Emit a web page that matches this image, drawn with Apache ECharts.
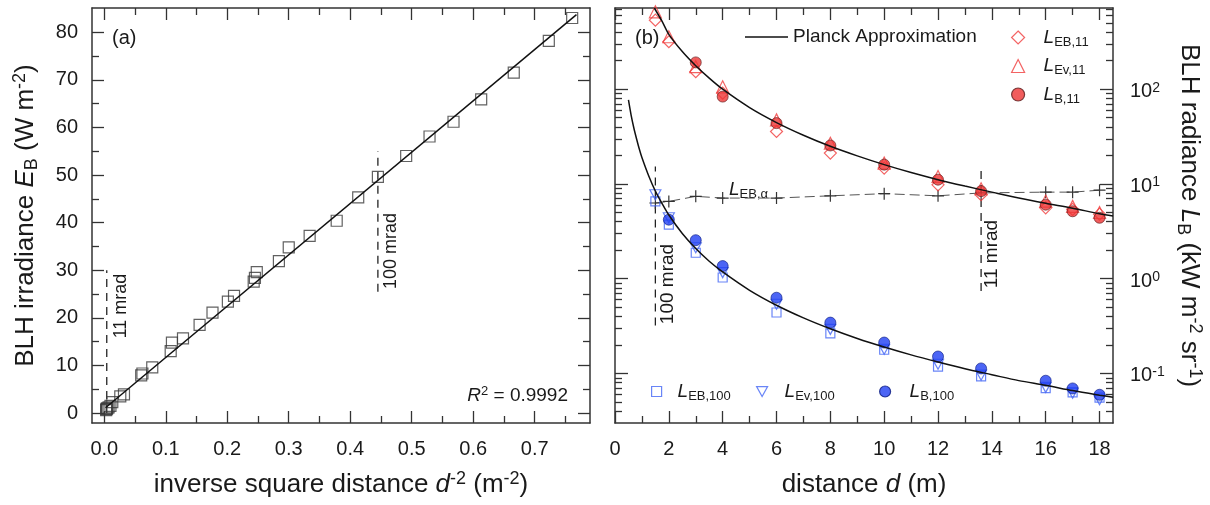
<!DOCTYPE html>
<html><head><meta charset="utf-8">
<script src="https://cdn.jsdelivr.net/npm/echarts@6/dist/echarts.min.js"></script>
<style>html,body{margin:0;padding:0;background:#fff}#c{width:1210px;height:505px}</style>
</head><body><div id="c"></div>
<script>
// ---------- Panel (a): irradiance vs inverse square distance ----------
const invSqDist = [0.003, 0.0035, 0.004, 0.005, 0.007, 0.01, 0.013, 0.026, 0.032, 0.06, 0.062, 0.078, 0.108, 0.110, 0.128, 0.155, 0.176, 0.201, 0.211, 0.243, 0.245, 0.248, 0.284, 0.30, 0.334, 0.378, 0.413, 0.445, 0.491, 0.529, 0.568, 0.613, 0.666, 0.723, 0.761];
const irradiance = [0.6, 0.8, 0.9, 1.0, 1.2, 1.5, 2.3, 3.5, 3.9, 7.9, 8.3, 9.6, 13.0, 14.8, 15.7, 18.5, 21.1, 23.4, 24.6, 27.6, 28.4, 29.6, 31.9, 34.8, 37.2, 40.4, 45.3, 49.6, 54.0, 58.1, 61.2, 65.9, 71.5, 78.2, 83.0];
const fitX = [0.002, 0.768];
const fitY = [1.1, 83.7];
const mrad11A_x = [0.004, 0.004], mrad11A_y = [0, 30];
const mrad100A_x = [0.445, 0.445], mrad100A_y = [25.5, 55];
const xMajorA = [0, 0.1, 0.2, 0.3, 0.4, 0.5, 0.6, 0.7];
const xMinorA = [0.05, 0.15, 0.25, 0.35, 0.45, 0.55, 0.65, 0.75];
const yMajorA = [0, 10, 20, 30, 40, 50, 60, 70, 80];
const yMinorA = [5, 15, 25, 35, 45, 55, 65, 75];

// ---------- Panel (b): radiance vs distance ----------
const distance = [1.5, 2, 3, 4, 6, 8, 10, 12, 13.6, 16, 17, 18];
const LEB11 = [536, 317, 153, 91, 35.8, 21.2, 14.7, 9.8, 7.7, 5.6, 5.4, 4.8];
const LEv11 = [656, 358, 173, 106, 47.5, 26.9, 16.6, 12.0, 8.9, 6.6, 5.8, 5.0];
const LB11 = [null, null, 192, 83.6, 43.9, 25.5, 16.0, 11.1, 8.4, 6.05, 5.15, 4.4];
const LEB100 = [6.56, 3.73, 1.88, 1.03, 0.44, 0.265, 0.178, 0.118, 0.093, 0.070, 0.063, 0.0556];
const LEv100 = [7.7, 4.4, 2.12, 1.16, 0.537, 0.292, 0.18, 0.125, 0.096, 0.0713, 0.062, 0.0527];
const LB100 = [null, 4.2, 2.55, 1.36, 0.63, 0.344, 0.212, 0.151, 0.113, 0.0838, 0.0695, 0.0596];
const LEBalpha = [6.3, 6.55, 7.4, 7.1, 7.1, 7.5, 7.9, 7.5, 8.05, 8.2, 8.2, 8.6];
const planckHiD = [1.46, 1.75, 2, 2.5, 3, 3.5, 4, 5, 6, 7, 8, 9, 10, 11, 12, 13, 14, 15, 16, 17, 18, 18.5];
const planckHiL = [720, 520, 380, 250, 177, 131, 100, 64, 44.5, 32.7, 25.0, 19.8, 16.0, 13.2, 11.1, 9.5, 8.2, 7.1, 6.25, 5.55, 4.85, 4.6];
const planckLoD = [0.5, 0.6, 0.7, 0.8, 0.9, 1.0, 1.25, 1.5, 1.75, 2, 2.5, 3, 3.5, 4, 5, 6, 7, 8, 9, 10, 11, 12, 13, 14, 15, 16, 17, 18, 18.5];
const planckLoL = [77, 53, 39, 30, 23.5, 19, 12.2, 8.4, 6.2, 4.7, 3.0, 2.08, 1.53, 1.18, 0.755, 0.525, 0.386, 0.296, 0.234, 0.19, 0.157, 0.132, 0.112, 0.097, 0.084, 0.075, 0.066, 0.059, 0.056];
const mrad100B_x = [1.5, 1.5], mrad100B_y = [0.32, 15.3];
const mrad11B_x = [13.6, 13.6], mrad11B_y = [0.74, 15.3];
const xMajorB = [0, 2, 4, 6, 8, 10, 12, 14, 16, 18];
const xMinorB = [1, 3, 5, 7, 9, 11, 13, 15, 17];
const yMajorB = [0.1, 1, 10, 100];
const yMinorB = [0.04, 0.05, 0.06, 0.07, 0.08, 0.09, 0.2, 0.3, 0.4, 0.5, 0.6, 0.7, 0.8, 0.9, 2, 3, 4, 5, 6, 7, 8, 9, 20, 30, 40, 50, 60, 70, 80, 90, 200, 300, 400, 500, 600, 700];

const FONT = "'Liberation Sans', Arial, Helvetica, sans-serif";
const INK = '#1a1a1a';
const RED = '#f03c3c', RED_FILL = '#ee3535';
const BLUE = '#4466f5', BLUE_FILL = '#1f3ff2';
const TRI_DOWN = 'path://M0,0 L10,0 L5,9 Z';

const zip = (a, b) => a.map((v, i) => [v, b[i]]).filter(p => p[1] != null);

function ax(o) {
  return Object.assign({
    type: o.type || 'value', gridIndex: o.g, position: o.pos, min: o.min, max: o.max,
    splitLine: {show: false},
    axisLine: {show: !!o.line, onZero: false, lineStyle: {color: '#333', width: 1.5}},
    axisTick: {show: true, inside: true, length: o.len, customValues: o.ticks, lineStyle: {color: '#333', width: 1.3}},
    axisLabel: o.label ? Object.assign({show: true, customValues: o.ticks, color: INK, fontSize: 20, fontFamily: FONT}, o.label) : {show: false},
    silent: true
  }, o.extra || {});
}

const titleRich = {
  it: {fontStyle: 'italic', fontSize: 26, lineHeight: 30, fontFamily: FONT, color: INK},
  sub: {fontSize: 18, lineHeight: 18, verticalAlign: 'bottom', fontFamily: FONT, color: INK},
  sup: {fontSize: 18, lineHeight: 18, verticalAlign: 'top', fontFamily: FONT, color: INK}
};
const titleStyle = {fontSize: 26, lineHeight: 30, fontFamily: FONT, color: INK, rich: titleRich};

const xAxes = [
  ax({g: 0, pos: 'bottom', min: -0.02, max: 0.79, line: true, len: 12, ticks: xMajorA,
      label: {formatter: v => v.toFixed(1), margin: 16},
      extra: {name: 'inverse square distance {it|d}{sup|-2} (m{sup|-2})', nameLocation: 'middle', nameGap: 47, nameTextStyle: titleStyle}}),
  ax({g: 0, pos: 'bottom', min: -0.02, max: 0.79, len: 7, ticks: xMinorA}),
  ax({g: 0, pos: 'top', min: -0.02, max: 0.79, line: true, len: 12, ticks: xMajorA}),
  ax({g: 0, pos: 'top', min: -0.02, max: 0.79, len: 7, ticks: xMinorA}),
  ax({g: 1, pos: 'bottom', min: 0, max: 18.5, line: true, len: 12, ticks: xMajorB,
      label: {formatter: v => String(v), margin: 16},
      extra: {name: 'distance {it|d} (m)', nameLocation: 'middle', nameGap: 47, nameTextStyle: titleStyle}}),
  ax({g: 1, pos: 'bottom', min: 0, max: 18.5, len: 7, ticks: xMinorB}),
  ax({g: 1, pos: 'top', min: 0, max: 18.5, line: true, len: 12, ticks: xMajorB}),
  ax({g: 1, pos: 'top', min: 0, max: 18.5, len: 7, ticks: xMinorB})
];
const logLabel = {
  formatter: v => '{b|10}{s|' + Math.round(Math.log10(v)) + '}', margin: 17, padding: [5, 0, 0, 0],
  rich: {b: {fontSize: 20, lineHeight: 22, fontFamily: FONT, color: INK},
         s: {fontSize: 14, lineHeight: 14, verticalAlign: 'top', fontFamily: FONT, color: INK}}
};
const yAxes = [
  ax({g: 0, pos: 'left', min: -2.1, max: 85.1, line: true, len: 12, ticks: yMajorA,
      label: {formatter: v => String(v), margin: 14},
      extra: {name: 'BLH irradiance {it|E}{sub|B} (W m{sup|-2})', nameLocation: 'middle', nameRotate: 90, nameGap: 51, nameTextStyle: titleStyle}}),
  ax({g: 0, pos: 'left', min: -2.1, max: 85.1, len: 7, ticks: yMinorA}),
  ax({g: 0, pos: 'right', min: -2.1, max: 85.1, line: true, len: 12, ticks: yMajorA}),
  ax({g: 0, pos: 'right', min: -2.1, max: 85.1, len: 7, ticks: yMinorA}),
  ax({g: 1, pos: 'right', type: 'log', min: 0.03, max: 720, line: true, len: 13, ticks: yMajorB, label: logLabel,
      extra: {logBase: 10, name: 'BLH radiance {it|L}{sub|B} (kW m{sup|-2} sr{sup|-1})', nameLocation: 'middle', nameRotate: -90, nameGap: 61, nameTextStyle: titleStyle}}),
  ax({g: 1, pos: 'right', type: 'log', min: 0.03, max: 720, len: 7, ticks: yMinorB, extra: {logBase: 10}}),
  ax({g: 1, pos: 'left', type: 'log', min: 0.03, max: 720, line: true, len: 13, ticks: yMajorB, extra: {logBase: 10}}),
  ax({g: 1, pos: 'left', type: 'log', min: 0.03, max: 720, len: 7, ticks: yMinorB, extra: {logBase: 10}})
];

const dashed = {color: '#222', width: 1.3, type: [8, 6]};
function vline(x, y, g) {
  return {type: 'line', xAxisIndex: g ? 4 : 0, yAxisIndex: g ? 4 : 0, data: zip(x, y), symbol: 'none',
          lineStyle: dashed, silent: true, z: 2};
}
const hollow = c => ({color: 'rgba(255,255,255,0)', borderColor: c, borderWidth: 1.2});

const series = [
  {type: 'scatter', name: 'EB', xAxisIndex: 0, yAxisIndex: 0, data: zip(invSqDist, irradiance),
   symbol: 'rect', symbolSize: 11, itemStyle: hollow('#3a3a3a'), z: 3},
  {type: 'line', name: 'fit', xAxisIndex: 0, yAxisIndex: 0, data: zip(fitX, fitY), symbol: 'none',
   lineStyle: {color: '#111', width: 1.5}, z: 4},
  vline(mrad11A_x, mrad11A_y, 0),
  vline(mrad100A_x, mrad100A_y, 0),
  vline(mrad100B_x, mrad100B_y, 1),
  vline(mrad11B_x, mrad11B_y, 1),
  {type: 'line', name: 'LEBalpha', xAxisIndex: 4, yAxisIndex: 4, data: zip(distance, LEBalpha),
   symbol: 'path://M0,5 L10,5 M5,0 L5,10', symbolSize: 12, showSymbol: true,
   itemStyle: {color: '#333', borderColor: '#333', borderWidth: 1.2},
   lineStyle: {color: '#555', width: 1, type: [10, 5]}, z: 3},
  {type: 'scatter', name: 'LEB11', xAxisIndex: 4, yAxisIndex: 4, data: zip(distance, LEB11),
   symbol: 'diamond', symbolSize: 12, itemStyle: hollow(RED), z: 3},
  {type: 'scatter', name: 'LEv11', xAxisIndex: 4, yAxisIndex: 4, data: zip(distance, LEv11),
   symbol: 'triangle', symbolSize: 12, itemStyle: hollow(RED), z: 3},
  {type: 'scatter', name: 'LEB100', xAxisIndex: 4, yAxisIndex: 4, data: zip(distance, LEB100),
   symbol: 'rect', symbolSize: 9, itemStyle: hollow(BLUE), z: 3},
  {type: 'scatter', name: 'LEv100', xAxisIndex: 4, yAxisIndex: 4, data: zip(distance, LEv100),
   symbol: TRI_DOWN, symbolSize: [11, 10], itemStyle: hollow(BLUE), z: 3},
  {type: 'scatter', name: 'LB11', xAxisIndex: 4, yAxisIndex: 4, data: zip(distance, LB11),
   symbol: 'circle', symbolSize: 11, itemStyle: {color: RED_FILL, borderColor: '#5a1a1a', borderWidth: 0.8}, z: 4},
  {type: 'scatter', name: 'LB100', xAxisIndex: 4, yAxisIndex: 4, data: zip(distance, LB100),
   symbol: 'circle', symbolSize: 11, itemStyle: {color: BLUE_FILL, borderColor: '#0a1a80', borderWidth: 0.8}, z: 4},
  {type: 'line', name: 'Planck Approximation', xAxisIndex: 4, yAxisIndex: 4, data: zip(planckHiD, planckHiL),
   symbol: 'none', smooth: 0.3, itemStyle: {color: '#111'}, lineStyle: {color: '#111', width: 1.5}, z: 5},
  {type: 'line', name: 'Planck Approximation', xAxisIndex: 4, yAxisIndex: 4, data: zip(planckLoD, planckLoL),
   symbol: 'none', smooth: 0.3, itemStyle: {color: '#111'}, lineStyle: {color: '#111', width: 1.5}, z: 5}
];

const legRich = pad => ({
  i: {fontStyle: 'italic', fontSize: 19, lineHeight: 22, fontFamily: FONT, color: INK, padding: [0, 0, 0, pad]},
  s: {fontSize: 13, lineHeight: 13, verticalAlign: 'bottom', fontFamily: FONT, color: INK}
});
const legLabel = {LEB11: '{i|L}{s|EB,11}', LEv11: '{i|L}{s|Ev,11}', LB11: '{i|L}{s|B,11}',
                  LEB100: '{i|L}{s|EB,100}', LEv100: '{i|L}{s|Ev,100}', LB100: '{i|L}{s|B,100}'};
function smallLegend(names, left, top, size, pad, orient) {
  return {data: names, left: left, top: top, orient: orient || 'horizontal', padding: 0, itemGap: 8,
          itemWidth: size, itemHeight: size, selectedMode: false,
          itemStyle: {borderWidth: 1.2},
          formatter: n => legLabel[n], textStyle: {rich: legRich(pad)}};
}

const option = {
  animation: false,
  backgroundColor: '#fff',
  grid: [
    {left: 92, top: 8, width: 498, height: 417},
    {left: 615, top: 8, width: 498, height: 417}
  ],
  xAxis: xAxes,
  yAxis: yAxes,
  legend: [
    {data: ['Planck Approximation'], left: 745, top: 26, padding: 0, icon: 'rect', itemWidth: 43, itemHeight: 1.6, selectedMode: false,
     itemStyle: {color: '#111', borderWidth: 0},
     textStyle: {fontSize: 19, fontFamily: FONT, color: INK, lineHeight: 22}},
    smallLegend(['LEB11', 'LEv11', 'LB11'], 1011, 28, 13, 14, 'vertical'),
    smallLegend(['LEB100'], 651, 382, 10, 11),
    smallLegend(['LEv100'], 756, 382, 11, 12),
    smallLegend(['LB100'], 879, 382, 11, 14)
  ],
  graphic: [
    {type: 'text', x: 112, y: 38, style: {text: '(a)', fontSize: 20, fontFamily: FONT, fill: INK, align: 'left', verticalAlign: 'middle'}},
    {type: 'text', x: 635, y: 38, style: {text: '(b)', fontSize: 20, fontFamily: FONT, fill: INK, align: 'left', verticalAlign: 'middle'}},
    {type: 'text', x: 568, y: 396, style: {text: '{i|R}{p|2}{n| = 0.9992}', fill: INK, align: 'right', verticalAlign: 'middle',
      rich: {i: {fontStyle: 'italic', fontSize: 19, lineHeight: 22, fontFamily: FONT},
             p: {fontSize: 13, lineHeight: 13, verticalAlign: 'top', fontFamily: FONT},
             n: {fontSize: 19, lineHeight: 22, fontFamily: FONT}}}},
    {type: 'text', x: 121, y: 306, rotation: Math.PI / 2, style: {text: '11 mrad', fontSize: 18, fontFamily: FONT, fill: INK, align: 'center', verticalAlign: 'middle'}},
    {type: 'text', x: 391, y: 251, rotation: Math.PI / 2, style: {text: '100 mrad', fontSize: 18, fontFamily: FONT, fill: INK, align: 'center', verticalAlign: 'middle'}},
    {type: 'text', x: 668, y: 284, rotation: Math.PI / 2, style: {text: '100 mrad', fontSize: 19, fontFamily: FONT, fill: INK, align: 'center', verticalAlign: 'middle'}},
    {type: 'text', x: 992, y: 254, rotation: Math.PI / 2, style: {text: '11 mrad', fontSize: 19, fontFamily: FONT, fill: INK, align: 'center', verticalAlign: 'middle'}},
    {type: 'text', x: 729, y: 190, style: {text: '{i|L}{s|EB,α}', fill: INK, align: 'left', verticalAlign: 'middle',
      rich: {i: {fontStyle: 'italic', fontSize: 19, lineHeight: 22, fontFamily: FONT},
             s: {fontSize: 13, lineHeight: 13, verticalAlign: 'bottom', fontFamily: FONT}}}}
  ],
  series: series
};

const chart = echarts.init(document.getElementById('c'), null, {renderer: 'canvas'});
chart.setOption(option);
</script>
</body></html>
